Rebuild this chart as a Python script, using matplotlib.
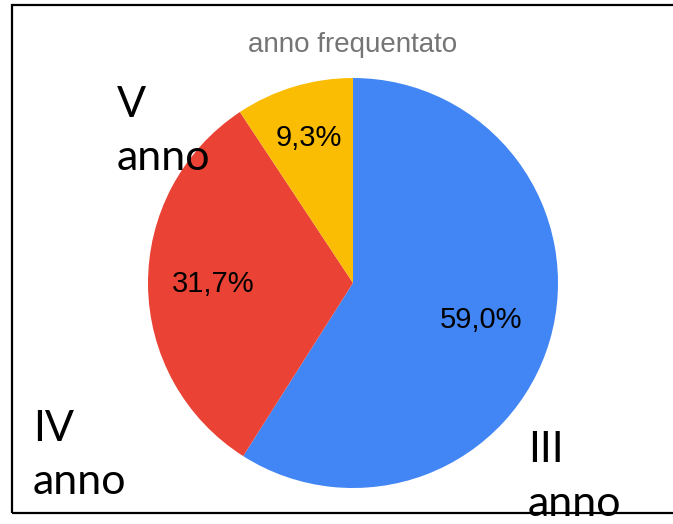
import math

import matplotlib

matplotlib.use("Agg")
import matplotlib.pyplot as plt
from matplotlib.patches import Rectangle

# data
labels = ["III\nanno", "IV\nanno", "V\nanno"]
shares = [59.0, 31.7, 9.3]
colors = ["#4285F4", "#EA4335", "#FBBC04"]
pct_r = [0.65, 0.68, 0.74]          # radial position of each % label
title = "anno frequentato"

W, H = 673, 524
fig = plt.figure(figsize=(W / 100, H / 100), dpi=100)
ax = fig.add_axes([0, 0, 1, 1])

cx, cy, rad = 353, H - 283, 205
wedges, texts, autotexts = ax.pie(
    shares, colors=colors, startangle=90, counterclock=False,
    center=(cx, cy), radius=rad, frame=True,
    autopct=lambda p: f"{p:.1f}%".replace(".", ","),
    pctdistance=0.68, wedgeprops=dict(linewidth=0),
    textprops=dict(fontsize=21, family="Liberation Sans", color="black"))
ax.set_xlim(0, W)
ax.set_ylim(0, H)
ax.set_aspect("equal")
ax.axis("off")

# nudge % labels to where the reference puts them
for t, w, r in zip(autotexts, wedges, pct_r):
    a = math.radians((w.theta1 + w.theta2) / 2)
    t.set_position((cx + r * rad * math.cos(a), cy + r * rad * math.sin(a)))

# category labels sit outside the pie, large, in a humanist sans
lab_pos = [(528, 431), (33, 410), (117, 86)]
for lab, (px, py) in zip(labels, lab_pos):
    fig.text(px / W, 1 - py / H, lab, ha="left", va="top", fontsize=31,
             family="Lato", linespacing=1.5, color="black")

fig.text(353 / W, 1 - 45 / H, title, ha="center", va="center",
         fontsize=20, family="Liberation Sans", color="#757575")

# outer frame (open at the right edge)
fig.patches.append(Rectangle((12 / W, 1 - 513 / H), 700 / W, 508 / H,
                             transform=fig.transFigure, fill=False,
                             edgecolor="black", linewidth=1.6))

fig.savefig("out.png", dpi=100)
